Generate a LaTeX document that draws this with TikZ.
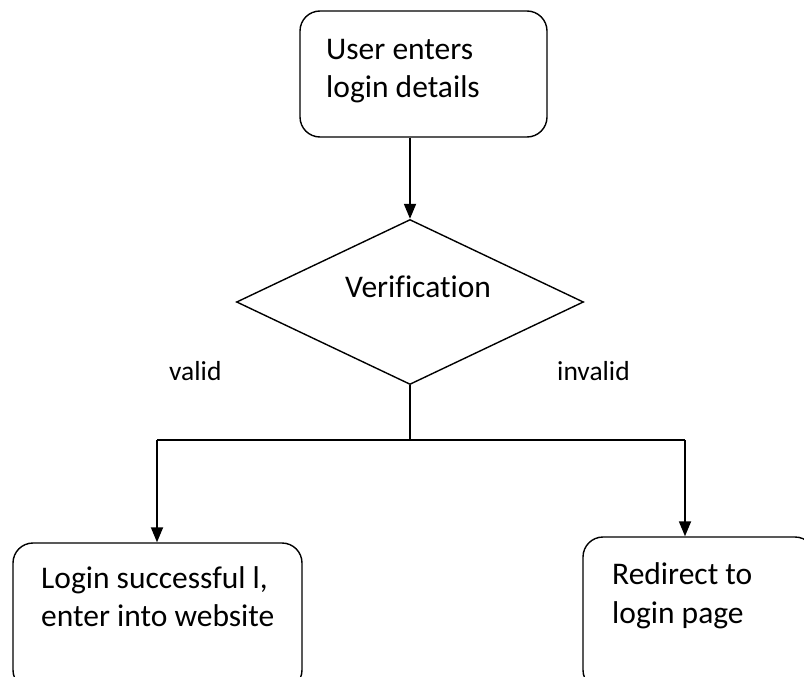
\documentclass[tikz,border=0pt]{standalone}
\usepackage{fontspec}
\setmainfont{Carlito}[Ligatures={NoCommon}]
\usetikzlibrary{shapes.geometric,arrows.meta}
\begin{document}
\begin{tikzpicture}[x=1pt,y=-1pt,
  box/.style={draw,line width=1.4pt,rounded corners=20pt,inner sep=0pt},
  txt/.style={anchor=base west,inner sep=0pt,font=\fontsize{31.5}{38}\selectfont},
  lbl/.style={anchor=base west,inner sep=0pt,font=\fontsize{27.5}{33}\selectfont},
  conn/.style={line width=1.8pt},
  arr/.style={conn,-{Triangle[length=15pt,width=12pt]}}]
\clip (0,0) rectangle (804,677);
\useasboundingbox (0,0) rectangle (804,677);
% top box
\node[box,minimum width=247pt,minimum height=126pt] (top) at (423.5,74) {};
\node[txt] (t1) at (326,60) {User enters};
\node[txt] (t2) at (326,98) {login details};
% diamond
\node[draw,line width=1.4pt,diamond,inner sep=0pt,minimum width=347pt,minimum height=165pt] (dia) at (410,302) {};
\node[txt] (vt) at (345,297) {Verification};
% labels
\node[lbl] (valid) at (169,380) {valid};
\node[lbl] (invalid) at (557,380) {invalid};
% bottom boxes
\node[box,minimum width=289pt,minimum height=147pt] (left) at (157.5,616.5) {};
\node[txt] (l1) at (41,588) {Login successful l,};
\node[txt] (l2) at (41,626) {enter into website};
\node[box,minimum width=232pt,minimum height=153pt] (right) at (699,613.5) {};
\node[txt] (r1) at (612,584) {Redirect to};
\node[txt] (r2) at (612,623) {login page};
% connectors
\coordinate (j) at (410,440);
\coordinate (jl) at (157,440);
\coordinate (jr) at (685,440);
\draw[arr] (top.south -| dia.north) -- (dia.north);
\draw[conn] (dia.south) -- (j);
\draw[conn] (jl) -- (jr);
\draw[arr] (jl) -- (jl |- left.north);
\draw[arr] (jr) -- (jr |- right.north);
\end{tikzpicture}
\end{document}
